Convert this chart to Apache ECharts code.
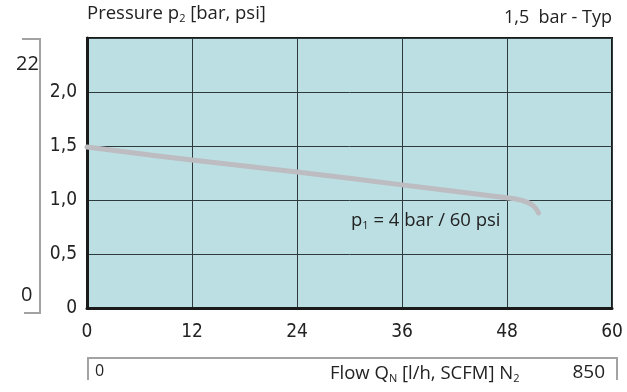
<!DOCTYPE html>
<html>
<head>
<meta charset="utf-8">
<style>
  html, body { margin: 0; padding: 0; background: #ffffff; }
  #chart { width: 627px; height: 392px; }
</style>
<script src="https://cdn.jsdelivr.net/npm/echarts@6/dist/echarts.min.js"></script>
</head>
<body>
<div id="chart"></div>
<script>
// Flow axis (l/h scale shown as 0..60 ticks) and outlet pressure p2 in bar
const flowTicks = [0, 12, 24, 36, 48, 60];
const pressureTicks = [0, 0.5, 1.0, 1.5, 2.0, 2.5];

// Characteristic curve for p1 = 4 bar / 60 psi
const curveFlow = [0, 12, 24, 36, 47, 49, 50.3, 51.1, 51.6];
const curvePressure = [1.49, 1.37, 1.26, 1.14, 1.03, 1.01, 0.98, 0.94, 0.88];

// Secondary scales (psi on the left, SCFM/l/h on the bottom)
const psiLabels = ['0', '22'];
const flowLabels = ['0', '850'];

const curveData = curveFlow.map((x, i) => [x, curvePressure[i]]);

const condensed = "'DejaVu Sans Condensed', Roboto, sans-serif";
const textFont = "'Open Sans', 'Noto Sans', sans-serif";
const bracketColor = '#a3a3a3';
const subStyle = { fontSize: 11, fontFamily: textFont, fill: '#222', padding: [11, 0, 0, 0] };

const chart = echarts.init(document.getElementById('chart'), null, { renderer: 'canvas' });

chart.setOption({
  animation: false,
  backgroundColor: '#ffffff',
  grid: {
    left: 87, top: 38, width: 525, height: 270,
    show: true,
    backgroundColor: '#bcdfe4',
    borderColor: '#1a1a1a',
    borderWidth: 2
  },
  xAxis: {
    type: 'value',
    min: flowTicks[0],
    max: flowTicks[flowTicks.length - 1],
    interval: 12,
    axisLine: { show: true, lineStyle: { color: '#1a1a1a', width: 3 } },
    axisTick: { show: false },
    splitLine: { show: true, lineStyle: { color: '#2e3a3c', width: 1 } },
    axisLabel: {
      margin: 15,
      fontFamily: condensed,
      fontSize: 19,
      color: '#222',
      formatter: v => String(v)
    }
  },
  yAxis: {
    type: 'value',
    min: pressureTicks[0],
    max: pressureTicks[pressureTicks.length - 1],
    interval: 0.5,
    axisLine: { show: true, lineStyle: { color: '#1a1a1a', width: 3 } },
    axisTick: { show: false },
    splitLine: { show: true, lineStyle: { color: '#2e3a3c', width: 1 } },
    axisLabel: {
      margin: 10,
      fontFamily: condensed,
      fontSize: 19,
      color: '#222',
      formatter: v => {
        if (v >= 2.5) return '';
        if (v === 0) return '0';
        return v.toFixed(1).replace('.', ',');
      }
    }
  },
  series: [{
    type: 'line',
    data: curveData,
    smooth: 0.4,
    showSymbol: false,
    lineStyle: { color: '#bcbcc1', width: 5, cap: 'round', join: 'round' },
    z: 3
  }],
  graphic: [
    // chart title with subscript
    {
      type: 'text', left: 87, top: 4,
      style: {
        text: 'Pressure p{sub|2} [bar, psi]',
        rich: { sub: subStyle },
        fontFamily: textFont, fontSize: 18.5, fill: '#222'
      }
    },
    {
      type: 'text', right: 15, top: 9,
      style: { text: '1,5  bar - Typ', fontFamily: textFont, fontSize: 18, fill: '#222' }
    },
    // curve label
    {
      type: 'text', left: 351, top: 211,
      style: {
        text: 'p{sub|1} = 4 bar / 60 psi',
        rich: { sub: subStyle },
        fontFamily: textFont, fontSize: 18.5, fill: '#222'
      },
      z: 10
    },
    // left psi bracket
    {
      type: 'polyline',
      shape: { points: [[22, 39], [40, 39], [40, 313], [24, 313]] },
      style: { stroke: bracketColor, lineWidth: 2, fill: null }
    },
    {
      type: 'text', left: 16, top: 54,
      style: { text: psiLabels[1], fontFamily: textFont, fontSize: 20, fill: '#222' }
    },
    {
      type: 'text', left: 21, top: 285,
      style: { text: psiLabels[0], fontFamily: textFont, fontSize: 20, fill: '#222' }
    },
    // bottom flow bracket
    {
      type: 'polyline',
      shape: { points: [[88, 380], [88, 358], [617, 358], [617, 380]] },
      style: { stroke: bracketColor, lineWidth: 2, fill: null }
    },
    {
      type: 'text', left: 95, top: 363,
      style: { text: flowLabels[0], fontFamily: textFont, fontSize: 16, fill: '#222' }
    },
    {
      type: 'text', left: 330, top: 364,
      style: {
        text: 'Flow Q{sub|N} [l/h, SCFM] N{sub|2}',
        rich: { sub: subStyle },
        fontFamily: textFont, fontSize: 18.5, fill: '#222'
      }
    },
    {
      type: 'text', right: 22, top: 363,
      style: { text: flowLabels[1], fontFamily: textFont, fontSize: 19, fill: '#222' }
    }
  ]
});
</script>
</body>
</html>
